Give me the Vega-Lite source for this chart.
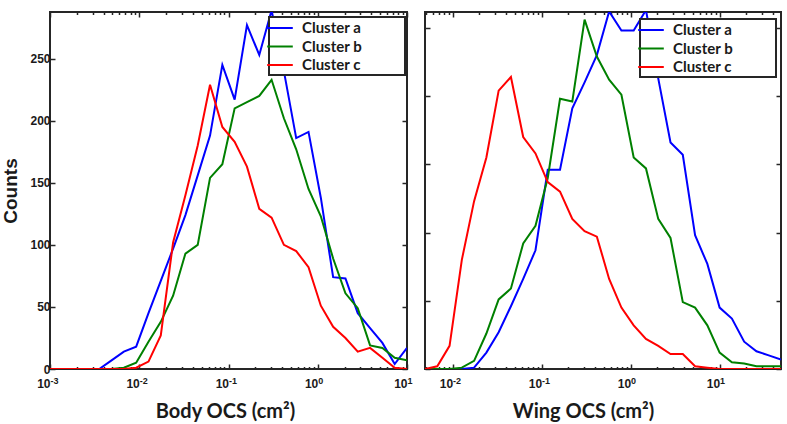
{
  "$schema": "https://vega.github.io/schema/vega-lite/v6.json",
  "padding": {"left": 0, "top": 9, "right": 0, "bottom": 0},
  "background": "white",
  "spacing": 9,
  "datasets": {
    "body": [
      {"x": 0.001, "count": 0, "cluster": "Cluster a"},
      {"x": 0.001373, "count": 0, "cluster": "Cluster a"},
      {"x": 0.001887, "count": 0, "cluster": "Cluster a"},
      {"x": 0.002593, "count": 0, "cluster": "Cluster a"},
      {"x": 0.003562, "count": 0, "cluster": "Cluster a"},
      {"x": 0.004894, "count": 7, "cluster": "Cluster a"},
      {"x": 0.006723, "count": 14, "cluster": "Cluster a"},
      {"x": 0.009237, "count": 18, "cluster": "Cluster a"},
      {"x": 0.01269, "count": 45, "cluster": "Cluster a"},
      {"x": 0.01743, "count": 71, "cluster": "Cluster a"},
      {"x": 0.02395, "count": 97, "cluster": "Cluster a"},
      {"x": 0.0329, "count": 124, "cluster": "Cluster a"},
      {"x": 0.0452, "count": 156, "cluster": "Cluster a"},
      {"x": 0.0621, "count": 188, "cluster": "Cluster a"},
      {"x": 0.08532, "count": 245, "cluster": "Cluster a"},
      {"x": 0.1172, "count": 217, "cluster": "Cluster a"},
      {"x": 0.161, "count": 277, "cluster": "Cluster a"},
      {"x": 0.2212, "count": 253, "cluster": "Cluster a"},
      {"x": 0.3039, "count": 289, "cluster": "Cluster a"},
      {"x": 0.4175, "count": 240, "cluster": "Cluster a"},
      {"x": 0.5736, "count": 186, "cluster": "Cluster a"},
      {"x": 0.788, "count": 191, "cluster": "Cluster a"},
      {"x": 1.0826, "count": 138, "cluster": "Cluster a"},
      {"x": 1.4874, "count": 74, "cluster": "Cluster a"},
      {"x": 2.0434, "count": 73, "cluster": "Cluster a"},
      {"x": 2.8073, "count": 45, "cluster": "Cluster a"},
      {"x": 3.8568, "count": 33, "cluster": "Cluster a"},
      {"x": 5.2987, "count": 21, "cluster": "Cluster a"},
      {"x": 7.2796, "count": 4, "cluster": "Cluster a"},
      {"x": 10, "count": 17, "cluster": "Cluster a"},
      {"x": 0.001, "count": 0, "cluster": "Cluster b"},
      {"x": 0.001373, "count": 0, "cluster": "Cluster b"},
      {"x": 0.001887, "count": 0, "cluster": "Cluster b"},
      {"x": 0.002593, "count": 0, "cluster": "Cluster b"},
      {"x": 0.003562, "count": 0, "cluster": "Cluster b"},
      {"x": 0.004894, "count": 0, "cluster": "Cluster b"},
      {"x": 0.006723, "count": 1, "cluster": "Cluster b"},
      {"x": 0.009237, "count": 5, "cluster": "Cluster b"},
      {"x": 0.01269, "count": 22, "cluster": "Cluster b"},
      {"x": 0.01743, "count": 38, "cluster": "Cluster b"},
      {"x": 0.02395, "count": 59, "cluster": "Cluster b"},
      {"x": 0.0329, "count": 93, "cluster": "Cluster b"},
      {"x": 0.0452, "count": 100, "cluster": "Cluster b"},
      {"x": 0.0621, "count": 154, "cluster": "Cluster b"},
      {"x": 0.08532, "count": 165, "cluster": "Cluster b"},
      {"x": 0.1172, "count": 210, "cluster": "Cluster b"},
      {"x": 0.161, "count": 215, "cluster": "Cluster b"},
      {"x": 0.2212, "count": 220, "cluster": "Cluster b"},
      {"x": 0.3039, "count": 233, "cluster": "Cluster b"},
      {"x": 0.4175, "count": 202, "cluster": "Cluster b"},
      {"x": 0.5736, "count": 177, "cluster": "Cluster b"},
      {"x": 0.788, "count": 145, "cluster": "Cluster b"},
      {"x": 1.0826, "count": 123, "cluster": "Cluster b"},
      {"x": 1.4874, "count": 89, "cluster": "Cluster b"},
      {"x": 2.0434, "count": 61, "cluster": "Cluster b"},
      {"x": 2.8073, "count": 49, "cluster": "Cluster b"},
      {"x": 3.8568, "count": 19, "cluster": "Cluster b"},
      {"x": 5.2987, "count": 17, "cluster": "Cluster b"},
      {"x": 7.2796, "count": 9, "cluster": "Cluster b"},
      {"x": 10, "count": 7, "cluster": "Cluster b"},
      {"x": 0.001, "count": 0, "cluster": "Cluster c"},
      {"x": 0.001373, "count": 0, "cluster": "Cluster c"},
      {"x": 0.001887, "count": 0, "cluster": "Cluster c"},
      {"x": 0.002593, "count": 0, "cluster": "Cluster c"},
      {"x": 0.003562, "count": 0, "cluster": "Cluster c"},
      {"x": 0.004894, "count": 0, "cluster": "Cluster c"},
      {"x": 0.006723, "count": 0, "cluster": "Cluster c"},
      {"x": 0.009237, "count": 1, "cluster": "Cluster c"},
      {"x": 0.01269, "count": 6, "cluster": "Cluster c"},
      {"x": 0.01743, "count": 27, "cluster": "Cluster c"},
      {"x": 0.02395, "count": 102, "cluster": "Cluster c"},
      {"x": 0.0329, "count": 140, "cluster": "Cluster c"},
      {"x": 0.0452, "count": 180, "cluster": "Cluster c"},
      {"x": 0.0621, "count": 229, "cluster": "Cluster c"},
      {"x": 0.08532, "count": 195, "cluster": "Cluster c"},
      {"x": 0.1172, "count": 183, "cluster": "Cluster c"},
      {"x": 0.161, "count": 163, "cluster": "Cluster c"},
      {"x": 0.2212, "count": 129, "cluster": "Cluster c"},
      {"x": 0.3039, "count": 122, "cluster": "Cluster c"},
      {"x": 0.4175, "count": 100, "cluster": "Cluster c"},
      {"x": 0.5736, "count": 95, "cluster": "Cluster c"},
      {"x": 0.788, "count": 82, "cluster": "Cluster c"},
      {"x": 1.0826, "count": 51, "cluster": "Cluster c"},
      {"x": 1.4874, "count": 34, "cluster": "Cluster c"},
      {"x": 2.0434, "count": 25, "cluster": "Cluster c"},
      {"x": 2.8073, "count": 14, "cluster": "Cluster c"},
      {"x": 3.8568, "count": 17, "cluster": "Cluster c"},
      {"x": 5.2987, "count": 9, "cluster": "Cluster c"},
      {"x": 7.2796, "count": 1, "cluster": "Cluster c"},
      {"x": 10, "count": 0, "cluster": "Cluster c"}
    ],
    "wing": [
      {"x": 0.004894, "count": 0, "cluster": "Cluster a"},
      {"x": 0.006723, "count": 0, "cluster": "Cluster a"},
      {"x": 0.009237, "count": 0, "cluster": "Cluster a"},
      {"x": 0.01269, "count": 0, "cluster": "Cluster a"},
      {"x": 0.01743, "count": 1, "cluster": "Cluster a"},
      {"x": 0.02395, "count": 12, "cluster": "Cluster a"},
      {"x": 0.0329, "count": 27, "cluster": "Cluster a"},
      {"x": 0.0452, "count": 46, "cluster": "Cluster a"},
      {"x": 0.0621, "count": 66, "cluster": "Cluster a"},
      {"x": 0.08532, "count": 87, "cluster": "Cluster a"},
      {"x": 0.1172, "count": 146, "cluster": "Cluster a"},
      {"x": 0.161, "count": 146, "cluster": "Cluster a"},
      {"x": 0.2212, "count": 191, "cluster": "Cluster a"},
      {"x": 0.3039, "count": 210, "cluster": "Cluster a"},
      {"x": 0.4175, "count": 230, "cluster": "Cluster a"},
      {"x": 0.5736, "count": 262, "cluster": "Cluster a"},
      {"x": 0.788, "count": 248, "cluster": "Cluster a"},
      {"x": 1.0826, "count": 248, "cluster": "Cluster a"},
      {"x": 1.4874, "count": 263, "cluster": "Cluster a"},
      {"x": 2.0434, "count": 213, "cluster": "Cluster a"},
      {"x": 2.8073, "count": 166, "cluster": "Cluster a"},
      {"x": 3.8568, "count": 157, "cluster": "Cluster a"},
      {"x": 5.2987, "count": 98, "cluster": "Cluster a"},
      {"x": 7.2796, "count": 77, "cluster": "Cluster a"},
      {"x": 10, "count": 45, "cluster": "Cluster a"},
      {"x": 13.738, "count": 37, "cluster": "Cluster a"},
      {"x": 18.874, "count": 20, "cluster": "Cluster a"},
      {"x": 25.93, "count": 13, "cluster": "Cluster a"},
      {"x": 35.62, "count": 10, "cluster": "Cluster a"},
      {"x": 48.94, "count": 7, "cluster": "Cluster a"},
      {"x": 0.004894, "count": 0, "cluster": "Cluster b"},
      {"x": 0.006723, "count": 0, "cluster": "Cluster b"},
      {"x": 0.009237, "count": 0, "cluster": "Cluster b"},
      {"x": 0.01269, "count": 1, "cluster": "Cluster b"},
      {"x": 0.01743, "count": 6, "cluster": "Cluster b"},
      {"x": 0.02395, "count": 26, "cluster": "Cluster b"},
      {"x": 0.0329, "count": 51, "cluster": "Cluster b"},
      {"x": 0.0452, "count": 59, "cluster": "Cluster b"},
      {"x": 0.0621, "count": 92, "cluster": "Cluster b"},
      {"x": 0.08532, "count": 105, "cluster": "Cluster b"},
      {"x": 0.1172, "count": 140, "cluster": "Cluster b"},
      {"x": 0.161, "count": 198, "cluster": "Cluster b"},
      {"x": 0.2212, "count": 196, "cluster": "Cluster b"},
      {"x": 0.3039, "count": 256, "cluster": "Cluster b"},
      {"x": 0.4175, "count": 229, "cluster": "Cluster b"},
      {"x": 0.5736, "count": 212, "cluster": "Cluster b"},
      {"x": 0.788, "count": 201, "cluster": "Cluster b"},
      {"x": 1.0826, "count": 155, "cluster": "Cluster b"},
      {"x": 1.4874, "count": 147, "cluster": "Cluster b"},
      {"x": 2.0434, "count": 110, "cluster": "Cluster b"},
      {"x": 2.8073, "count": 96, "cluster": "Cluster b"},
      {"x": 3.8568, "count": 49, "cluster": "Cluster b"},
      {"x": 5.2987, "count": 45, "cluster": "Cluster b"},
      {"x": 7.2796, "count": 32, "cluster": "Cluster b"},
      {"x": 10, "count": 12, "cluster": "Cluster b"},
      {"x": 13.738, "count": 5, "cluster": "Cluster b"},
      {"x": 18.874, "count": 4, "cluster": "Cluster b"},
      {"x": 25.93, "count": 2, "cluster": "Cluster b"},
      {"x": 35.62, "count": 2, "cluster": "Cluster b"},
      {"x": 48.94, "count": 2, "cluster": "Cluster b"},
      {"x": 0.004894, "count": 0, "cluster": "Cluster c"},
      {"x": 0.006723, "count": 2, "cluster": "Cluster c"},
      {"x": 0.009237, "count": 17, "cluster": "Cluster c"},
      {"x": 0.01269, "count": 80, "cluster": "Cluster c"},
      {"x": 0.01743, "count": 123, "cluster": "Cluster c"},
      {"x": 0.02395, "count": 155, "cluster": "Cluster c"},
      {"x": 0.0329, "count": 204, "cluster": "Cluster c"},
      {"x": 0.0452, "count": 214, "cluster": "Cluster c"},
      {"x": 0.0621, "count": 170, "cluster": "Cluster c"},
      {"x": 0.08532, "count": 158, "cluster": "Cluster c"},
      {"x": 0.1172, "count": 137, "cluster": "Cluster c"},
      {"x": 0.161, "count": 130, "cluster": "Cluster c"},
      {"x": 0.2212, "count": 110, "cluster": "Cluster c"},
      {"x": 0.3039, "count": 101, "cluster": "Cluster c"},
      {"x": 0.4175, "count": 97, "cluster": "Cluster c"},
      {"x": 0.5736, "count": 66, "cluster": "Cluster c"},
      {"x": 0.788, "count": 45, "cluster": "Cluster c"},
      {"x": 1.0826, "count": 32, "cluster": "Cluster c"},
      {"x": 1.4874, "count": 22, "cluster": "Cluster c"},
      {"x": 2.0434, "count": 17, "cluster": "Cluster c"},
      {"x": 2.8073, "count": 11, "cluster": "Cluster c"},
      {"x": 3.8568, "count": 11, "cluster": "Cluster c"},
      {"x": 5.2987, "count": 2, "cluster": "Cluster c"},
      {"x": 7.2796, "count": 1, "cluster": "Cluster c"},
      {"x": 10, "count": 0, "cluster": "Cluster c"},
      {"x": 13.738, "count": 0, "cluster": "Cluster c"},
      {"x": 18.874, "count": 0, "cluster": "Cluster c"},
      {"x": 25.93, "count": 0, "cluster": "Cluster c"},
      {"x": 35.62, "count": 0, "cluster": "Cluster c"},
      {"x": 48.94, "count": 0, "cluster": "Cluster c"}
    ]
  },
  "hconcat": [
    {
      "width": 357,
      "height": 357,
      "data": {"name": "body"},
      "resolve": {"axis": {"x": "independent", "y": "independent"}},
      "layer": [
        {
          "mark": {"type": "line", "strokeWidth": 2, "clip": true},
          "encoding": {
            "x": {"field": "x", "type": "quantitative",
              "scale": {"type": "log", "domain": [0.001, 10], "nice": false},
              "axis": {"orient": "bottom", "values": [0.001, 0.01, 0.1, 1, 10], "tickSize": -5,
                "labelExpr": "'10'", "labelAlign": "right", "labelDx": 1,
                "labelPadding": 14, "title": "Body OCS (cm²)", "titleX": 175, "titlePadding": 12}},
            "y": {"field": "count", "type": "quantitative",
              "scale": {"domain": [0, 287.6], "nice": false, "zero": true},
              "axis": {"orient": "left", "values": [0, 50, 100, 150, 200, 250], "tickSize": -5,
                "labelPadding": 5, "title": "Counts", "titleFont": "Liberation Sans", "titleFontSize": 19, "titlePadding": 9}},
            "color": {"field": "cluster", "type": "nominal",
              "scale": {"domain": ["Cluster a", "Cluster b", "Cluster c"], "range": ["#0000ff", "#008000", "#ff0000"]},
              "legend": {"orient": "none", "legendX": 219, "legendY": 5, "title": null,
                "labelExpr": "datum.label + '\u2003\u2003\u2002\u2800'",
                "encode": {"legend": {"update": {"strokeWidth": {"value": 2}}}}}}
          }
        },
        {
          "mark": {"type": "line", "opacity": 0},
          "encoding": {
            "x": {"field": "x", "type": "quantitative",
              "axis": {"orient": "bottom", "values": [0.002, 0.003, 0.004, 0.005, 0.006, 0.007, 0.008, 0.009, 0.02, 0.03, 0.04, 0.05, 0.06, 0.07, 0.08, 0.09, 0.2, 0.3, 0.4, 0.5, 0.6, 0.7, 0.8, 0.9, 2, 3, 4, 5, 6, 7, 8, 9],
                "tickSize": -2.5, "labels": false, "title": null}},
            "y": {"field": "count", "type": "quantitative",
              "axis": {"orient": "right", "values": [0, 50, 100, 150, 200, 250], "tickSize": -5, "labels": false, "title": null}},
            "detail": {"field": "cluster"}
          }
        },
        {
          "mark": {"type": "line", "opacity": 0},
          "encoding": {
            "x": {"field": "x", "type": "quantitative",
              "axis": {"orient": "bottom", "values": [0.001, 0.01, 0.1, 1, 10], "ticks": false,
                "labelExpr": "datum.value < 0.005 ? '-3' : datum.value < 0.05 ? '-2' : datum.value < 0.5 ? '-1' : datum.value < 5 ? '0' : '1'",
                "labelAlign": "left", "labelDx": 1.5, "labelFontSize": 9, "labelPadding": 7, "title": null}},
            "y": {"field": "count", "type": "quantitative", "axis": null},
            "detail": {"field": "cluster"}
          }
        },
        {
          "mark": {"type": "line", "opacity": 0},
          "encoding": {
            "x": {"field": "x", "type": "quantitative",
              "axis": {"orient": "top", "values": [0.001, 0.01, 0.1, 1, 10], "tickSize": -5, "labels": false, "title": null}},
            "y": {"field": "count", "type": "quantitative", "axis": null},
            "detail": {"field": "cluster"}
          }
        },
        {
          "mark": {"type": "line", "opacity": 0},
          "encoding": {
            "x": {"field": "x", "type": "quantitative",
              "axis": {"orient": "top", "values": [0.002, 0.003, 0.004, 0.005, 0.006, 0.007, 0.008, 0.009, 0.02, 0.03, 0.04, 0.05, 0.06, 0.07, 0.08, 0.09, 0.2, 0.3, 0.4, 0.5, 0.6, 0.7, 0.8, 0.9, 2, 3, 4, 5, 6, 7, 8, 9],
                "tickSize": -2.5, "labels": false, "title": null}},
            "y": {"field": "count", "type": "quantitative", "axis": null},
            "detail": {"field": "cluster"}
          }
        }
      ]
    },
    {
      "width": 356,
      "height": 357,
      "data": {"name": "wing"},
      "resolve": {"axis": {"x": "independent", "y": "independent"}},
      "layer": [
        {
          "mark": {"type": "line", "strokeWidth": 2, "clip": true},
          "encoding": {
            "x": {"field": "x", "type": "quantitative",
              "scale": {"type": "log", "domain": [0.004894, 48.94], "nice": false},
              "axis": {"orient": "bottom", "values": [0.01, 0.1, 1, 10], "tickSize": -5,
                "labelExpr": "'10'", "labelAlign": "right", "labelDx": 1,
                "labelPadding": 14, "title": "Wing OCS (cm²)", "titleX": 158, "titlePadding": 12}},
            "y": {"field": "count", "type": "quantitative",
              "scale": {"domain": [0, 261.6], "nice": false, "zero": true},
              "axis": {"orient": "left", "values": [0, 50, 100, 150, 200, 250], "tickSize": -5, "labels": false, "title": null}},
            "color": {"field": "cluster", "type": "nominal",
              "scale": {"domain": ["Cluster a", "Cluster b", "Cluster c"], "range": ["#0000ff", "#008000", "#ff0000"]},
              "legend": {"orient": "none", "legendX": 215, "legendY": 7, "title": null,
                "labelExpr": "datum.label + '\u2003\u2003\u2002\u2800'",
                "encode": {"legend": {"update": {"strokeWidth": {"value": 2}}}}}}
          }
        },
        {
          "mark": {"type": "line", "opacity": 0},
          "encoding": {
            "x": {"field": "x", "type": "quantitative",
              "axis": {"orient": "bottom", "values": [0.005, 0.006, 0.007, 0.008, 0.009, 0.02, 0.03, 0.04, 0.05, 0.06, 0.07, 0.08, 0.09, 0.2, 0.3, 0.4, 0.5, 0.6, 0.7, 0.8, 0.9, 2, 3, 4, 5, 6, 7, 8, 9, 20, 30, 40],
                "tickSize": -2.5, "labels": false, "title": null}},
            "y": {"field": "count", "type": "quantitative",
              "axis": {"orient": "right", "values": [0, 50, 100, 150, 200, 250], "tickSize": -5, "labels": false, "title": null}},
            "detail": {"field": "cluster"}
          }
        },
        {
          "mark": {"type": "line", "opacity": 0},
          "encoding": {
            "x": {"field": "x", "type": "quantitative",
              "axis": {"orient": "bottom", "values": [0.01, 0.1, 1, 10], "ticks": false,
                "labelExpr": "datum.value < 0.05 ? '-2' : datum.value < 0.5 ? '-1' : datum.value < 5 ? '0' : '1'",
                "labelAlign": "left", "labelDx": 1.5, "labelFontSize": 9, "labelPadding": 7, "title": null}},
            "y": {"field": "count", "type": "quantitative", "axis": null},
            "detail": {"field": "cluster"}
          }
        },
        {
          "mark": {"type": "line", "opacity": 0},
          "encoding": {
            "x": {"field": "x", "type": "quantitative",
              "axis": {"orient": "top", "values": [0.01, 0.1, 1, 10], "tickSize": -5, "labels": false, "title": null}},
            "y": {"field": "count", "type": "quantitative", "axis": null},
            "detail": {"field": "cluster"}
          }
        },
        {
          "mark": {"type": "line", "opacity": 0},
          "encoding": {
            "x": {"field": "x", "type": "quantitative",
              "axis": {"orient": "top", "values": [0.005, 0.006, 0.007, 0.008, 0.009, 0.02, 0.03, 0.04, 0.05, 0.06, 0.07, 0.08, 0.09, 0.2, 0.3, 0.4, 0.5, 0.6, 0.7, 0.8, 0.9, 2, 3, 4, 5, 6, 7, 8, 9, 20, 30, 40],
                "tickSize": -2.5, "labels": false, "title": null}},
            "y": {"field": "count", "type": "quantitative", "axis": null},
            "detail": {"field": "cluster"}
          }
        }
      ]
    }
  ],
  "resolve": {"legend": {"color": "independent"}},
  "config": {
    "view": {"stroke": "#262626", "strokeWidth": 2},
    "axis": {
      "domain": false, "grid": false,
      "tickColor": "#262626", "tickWidth": 1.5,
      "labelFont": "Liberation Sans", "labelFontWeight": "bold", "labelFontSize": 12, "labelColor": "#1a1a1a",
      "titleFont": "Lato", "titleFontWeight": "bold", "titleFontSize": 20, "titleColor": "#1a1a1a"
    },
    "legend": {
      "symbolType": "M-1.6,0H1.6",
      "symbolSize": 256,
      "symbolStrokeWidth": 2,
      "symbolFillColor": "transparent",
      "labelFont": "Lato", "labelFontWeight": "bold", "labelFontSize": 15, "labelColor": "#1a1a1a",
      "labelOffset": 13,
      "rowPadding": 1.5,
      "padding": 2,
      "strokeColor": "#262626",
      "fillColor": "white"
    }
  }
}
